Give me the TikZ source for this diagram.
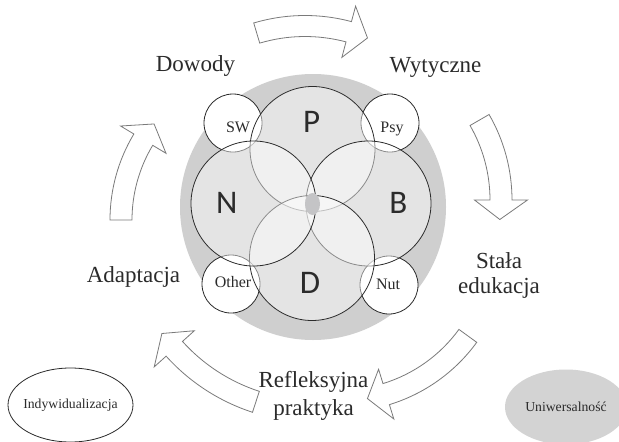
\documentclass[tikz,border=0pt]{standalone}
\usepackage{fontspec}
\setmainfont{Liberation Serif}
\newfontfamily\lettfont{Carlito}
\usetikzlibrary{calc}
\definecolor{ringgray}{HTML}{CFCFCF}
\definecolor{inkc}{HTML}{2B2B2B}
\definecolor{arrowline}{HTML}{7A7A7A}
\definecolor{ellgray}{HTML}{D3D3D3}
\definecolor{centergray}{HTML}{C4C4C6}
\newcommand\cycarrow[8]{%
  \pgfmathsetmacro\rOut{#3+#6/2}%
  \pgfmathsetmacro\rIn{#3-#6/2}%
  \pgfmathsetmacro\hOut{#3+#7/2}%
  \pgfmathsetmacro\hIn{#3-#7/2}%
  \draw[blockarrow] ([shift={(#1,#2)}]#4:\rOut) arc[start angle=#4, end angle=#5, radius=\rOut]
    -- ([shift={(#1,#2)}]#5:\hOut) -- ([shift={(#1,#2)}]#8:#3) -- ([shift={(#1,#2)}]#5:\hIn)
    -- ([shift={(#1,#2)}]#5:\rIn) arc[start angle=#5, end angle=#4, radius=\rIn] -- cycle;
}
\begin{document}
\begin{tikzpicture}[x=1pt,y=-1pt,
  lbl/.style={text=inkc, font=\fontsize{23}{27}\selectfont, inner sep=0pt},
  sml/.style={text=inkc, font=\fontsize{16}{18}\selectfont, inner sep=0pt, anchor=base},
  tiny/.style={text=inkc, font=\fontsize{13.7}{16}\selectfont, inner sep=0pt},
  big/.style={text=inkc, font=\lettfont\fontsize{33}{36}\selectfont, inner sep=0pt},
  bigc/.style={circle, minimum size=125pt, inner sep=0pt, draw=inkc, line width=0.8pt, fill=white, fill opacity=0.45},
  smallc/.style={circle, minimum size=58pt, inner sep=0pt, draw=inkc, line width=0.8pt, fill=white},
  blockarrow/.style={draw=arrowline, fill=white, line width=0.8pt, line join=miter},
]
\useasboundingbox (0,0) rectangle (619,442);
\clip (0,0) rectangle (619,442);
\fill[white] (0,0) rectangle (619,442);
% ring
\node[circle, minimum size=266pt, fill=ringgray, inner sep=0pt] (ring) at (313,207) {};
% small circles
\node[smallc] (cSW) at (233,123) {};
\node[smallc] (cPsy) at (390,123) {};
\node[smallc] (cOther) at (231,284) {};
\node[smallc] (cNut) at (389,285) {};
% big circles
\node[bigc] (cP) at (312.5,149) {};
\node[bigc] (cB) at (368.5,203.5) {};
\node[bigc] (cD) at (312,258) {};
\node[bigc] (cN) at (253.5,203.5) {};
\fill[centergray] (312.5,204) ellipse [x radius=7.5, y radius=11];
% letters
\node[big] (tP) at (311.7,121.7) {P};
\node[big] (tN) at (226.7,203.3) {N};
\node[big] (tB) at (398.3,203.3) {B};
\node[big] (tD) at (310,283.3) {D};
\node[sml] (tSW) at (238,132) {SW};
\node[sml] (tPsy) at (392,132) {Psy};
\node[sml] (tOther) at (233,287) {Other};
\node[sml] (tNut) at (388,289) {Nut};
% arrows
\cycarrow{305}{195}{169}{-106.6}{-75}{21}{53}{-68.3}
\cycarrow{341}{200}{160}{-30}{0}{22}{53}{7}
\cycarrow{340}{243}{158}{36}{73}{22}{52}{80}
\cycarrow{314}{223}{188}{108}{138}{22}{54}{144}
\cycarrow{277}{220}{156}{180}{211}{22}{53}{218}
% labels
\node[lbl, anchor=base] (dow) at (195.5,71) {Dowody};
\node[lbl, anchor=base] (wyt) at (435.5,72) {Wytyczne};
\node[lbl, anchor=base] (ada) at (133.5,282) {Adaptacja};
\node[lbl, align=center, font=\fontsize{23}{25.5}\selectfont] (sta) at (499,275.3) {Stała\\edukacja};
\node[lbl, align=center, font=\fontsize{23}{28}\selectfont] (ref) at (313.5,395.5) {Refleksyjna\\praktyka};
% ellipses
\draw[inkc, line width=0.8pt, fill=white] (70.5,405) ellipse [x radius=62.5, y radius=37];
\node[tiny] (indy) at (70.5,405) {Indywidualizacja};
\fill[ellgray] (566,407) ellipse [x radius=61, y radius=37.5];
\node[tiny] (uni) at (566,407) {Uniwersalność};
\end{tikzpicture}
\end{document}
